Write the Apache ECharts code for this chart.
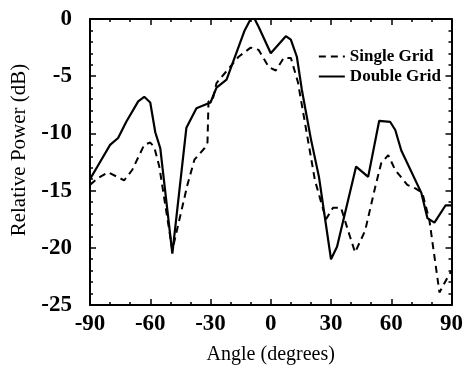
<!DOCTYPE html>
<html>
<head>
<meta charset="utf-8">
<script src="https://cdn.jsdelivr.net/npm/echarts@6/dist/echarts.min.js"></script>
<style>
html,body{margin:0;padding:0;background:#fff;}
#diagram{width:466px;height:377px;}
</style>
</head>
<body>
<div id="diagram"></div>
<script>
// angle (deg) / relative power (dB) pairs
var singleAngle = [-90,-86,-81,-73,-69,-66,-63,-60,-58,-55.5,-49,-41.5,-38,-33,-31.5,-31,-29,-27,-16,-10,-6,-1,2.5,6.5,10,13.5,22,27.5,31,35,38.5,42,47,52,55,58.5,62,68,72,75.5,79,84,88,90];
var singlePower = [-14.5,-13.9,-13.4,-14.1,-13.2,-12.1,-11.0,-10.8,-11.2,-12.9,-20.2,-14.5,-12.3,-11.3,-10.8,-7.2,-7.1,-5.6,-3.3,-2.5,-2.7,-4.2,-4.5,-3.4,-3.4,-5.5,-14.1,-17.5,-16.5,-16.5,-18.5,-20.4,-18.5,-14.7,-12.6,-11.9,-13.2,-14.5,-14.8,-15.2,-17.6,-23.9,-22.6,-22.0];

var doubleAngle = [-90,-86,-80,-76,-72,-66,-63,-60,-57.5,-55,-49,-42,-37,-30,-27,-22,-13,-10,-8,-6,0,7.5,10,13,15.5,20,24,30,33,42.5,48.5,54,59.5,62,65,75,78,81.5,87,90];
var doublePower = [-14.0,-12.8,-11.0,-10.4,-9.0,-7.2,-6.8,-7.3,-9.9,-11.3,-20.5,-9.5,-7.8,-7.3,-6.0,-5.3,-1.0,0,0,-0.7,-3.0,-1.5,-1.8,-3.3,-6.2,-10.5,-13.8,-21.0,-19.9,-12.9,-13.8,-8.9,-9.0,-9.7,-11.5,-15.2,-17.4,-17.8,-16.3,-16.3];

function pairs(xs, ys){
	var out = [];
	for(var i=0;i<xs.length;i++){
		out.push([xs[i], ys[i]]);
	}
	return out;
}

var font = 'Liberation Serif';

var xBase = {
	type: 'value',
	min: -90,
	max: 90,
	interval: 30,
	splitLine: {show: false},
	axisLine: {show: true, onZero: false, lineStyle: {color: '#000', width: 2}},
	axisTick: {show: true, inside: true, length: 6, lineStyle: {color: '#000', width: 1.5}},
	minorTick: {show: true, splitNumber: 3, length: 3, lineStyle: {color: '#000', width: 1.5}}
};
var yBase = {
	type: 'value',
	min: -25,
	max: 0,
	interval: 5,
	splitLine: {show: false},
	axisLine: {show: true, onZero: false, lineStyle: {color: '#000', width: 2}},
	axisTick: {show: true, inside: true, length: 6, lineStyle: {color: '#000', width: 1.5}},
	minorTick: {show: true, splitNumber: 5, length: 3, lineStyle: {color: '#000', width: 1.5}}
};

var option = {
	animation: false,
	backgroundColor: '#fff',
	grid: {left: 90, right: 12, top: 19, bottom: 72},
	legend: {
		orient: 'vertical',
		right: 20,
		top: 43,
		itemWidth: 26,
		itemHeight: 10,
		itemGap: 3,
		itemStyle: {opacity: 0},
		textStyle: {fontFamily: font, fontSize: 17, fontWeight: 'bold', color: '#000', width: 86, align: 'right'},
		data: ['Single Grid', 'Double Grid']
	},
	xAxis: [
		Object.assign({}, xBase, {
			position: 'bottom',
			name: 'Angle (degrees)',
			nameLocation: 'middle',
			nameGap: 40,
			nameTextStyle: {fontFamily: font, fontSize: 20, color: '#000'},
			axisLabel: {fontFamily: font, fontSize: 23, fontWeight: 'bold', color: '#000', margin: 8}
		}),
		Object.assign({}, xBase, {position: 'top', axisLabel: {show: false}})
	],
	yAxis: [
		Object.assign({}, yBase, {
			position: 'left',
			name: 'Relative Power (dB)',
			nameLocation: 'middle',
			nameGap: 53,
			nameTextStyle: {fontFamily: font, fontSize: 21, color: '#000', padding: [0, 0, 0, 24]},
			axisLabel: {fontFamily: font, fontSize: 23, fontWeight: 'bold', color: '#000', margin: 18}
		}),
		Object.assign({}, yBase, {position: 'right', axisLabel: {show: false}})
	],
	series: [
		{
			name: 'Single Grid',
			type: 'line',
			symbol: 'none',
			color: '#000',
			lineStyle: {color: '#000', width: 2, type: [7, 5]},
			data: pairs(singleAngle, singlePower)
		},
		{
			name: 'Double Grid',
			type: 'line',
			symbol: 'none',
			color: '#000',
			lineStyle: {color: '#000', width: 2.2},
			data: pairs(doubleAngle, doublePower)
		}
	]
};

var myChart = echarts.init(document.getElementById('diagram'));
myChart.setOption(option);
</script>
</body>
</html>
